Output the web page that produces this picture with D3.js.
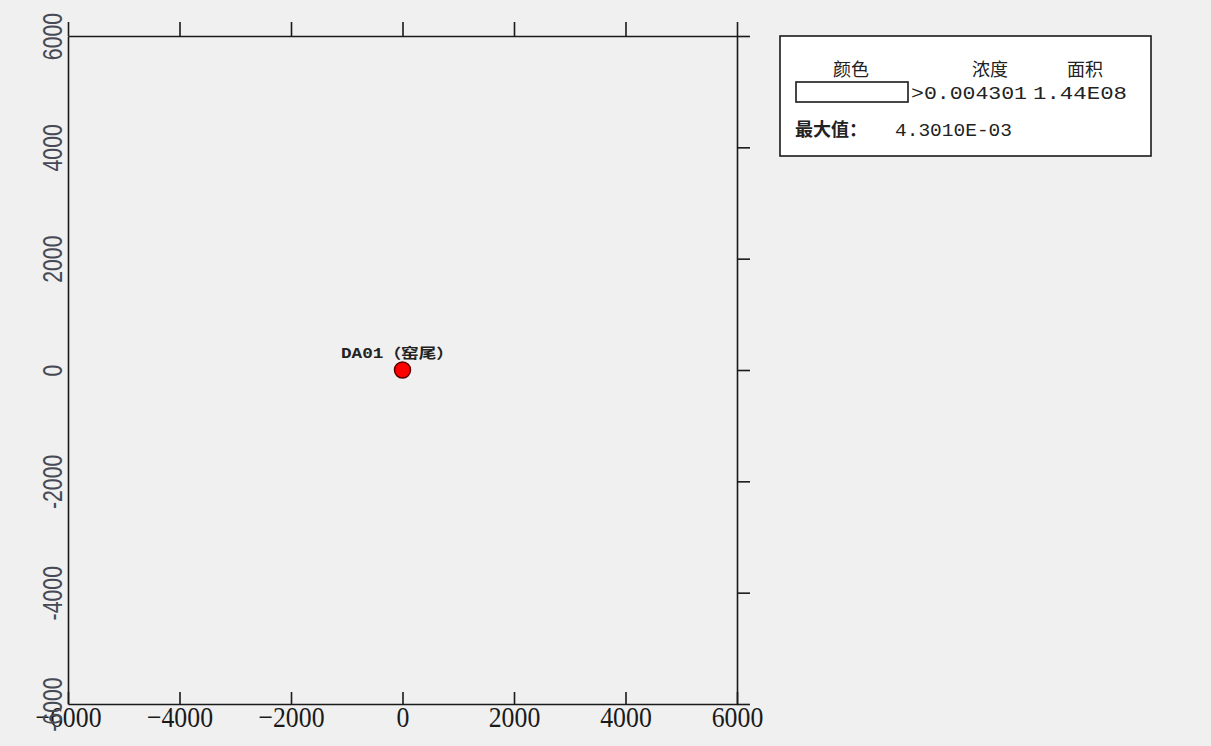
<!DOCTYPE html>
<html>
<head>
<meta charset="utf-8">
<script src="https://cdn.jsdelivr.net/npm/d3@7"></script>
<style>
  html, body { margin: 0; padding: 0; background: #f0f0f0; }
  svg { display: block; }
</style>
</head>
<body>
<div id="chart"></div>
<script>
// data
const xTicks = [-6000, -4000, -2000, 0, 2000, 4000, 6000];
const yTicks = [-6000, -4000, -2000, 0, 2000, 4000, 6000];
const sourceNames = ["DA01（窑尾）"];
const sourceX = [0];
const sourceY = [0];
const legendHeaders = ["颜色", "浓度", "面积"];
const legendConc = [">0.004301"];
const legendArea = ["1.44E08"];
const maxLabel = "最大值：";
const maxValue = "4.3010E-03";

const width = 1211, height = 746;
const plot = {left: 68, right: 737, top: 36, bottom: 704};

const svg = d3.select("#chart").append("svg")
    .attr("width", width)
    .attr("height", height);

svg.append("rect").attr("width", width).attr("height", height).attr("fill", "#f0f0f0");

const x = d3.scaleLinear().domain([-6000, 6000]).range([plot.left, plot.right]);
const y = d3.scaleLinear().domain([-6000, 6000]).range([plot.bottom, plot.top]);

const axisColor = "#1a1a1a";

function styleAxis(g) {
    g.select(".domain").attr("stroke", axisColor).attr("stroke-width", 1.6);
    g.selectAll(".tick line").attr("stroke", axisColor).attr("stroke-width", 1.6);
}

// top axis: ticks pointing up, no labels
svg.append("g")
    .attr("transform", `translate(0,${plot.top})`)
    .call(d3.axisTop(x).tickValues(xTicks).tickSize(14).tickSizeOuter(0).tickFormat(""))
    .call(styleAxis);

// right axis: ticks pointing right, no labels
svg.append("g")
    .attr("transform", `translate(${plot.right},0)`)
    .call(d3.axisRight(y).tickValues(yTicks).tickSize(13).tickSizeOuter(0).tickFormat(""))
    .call(styleAxis);

// bottom axis: inward ticks + labels
const xAxisG = svg.append("g")
    .attr("transform", `translate(0,${plot.bottom})`)
    .call(d3.axisBottom(x).tickValues(xTicks).tickSize(-12).tickSizeOuter(0).tickFormat(d => d === 0 ? "0" : d3.format("")(d).replace("-", "−")))
    .call(styleAxis);

xAxisG.selectAll(".tick text")
    .attr("y", 23)
    .attr("dy", null)
    .attr("fill", "#1a1a1a")
    .attr("font-family", "'Liberation Serif', 'DejaVu Serif', serif")
    .attr("font-size", 30)
    .attr("transform", "scale(0.86,1)");
// fix x after scale
xAxisG.selectAll(".tick text").attr("x", 0);

// left axis: rotated labels, no ticks
const yAxisG = svg.append("g")
    .attr("transform", `translate(${plot.left},0)`)
    .call(d3.axisLeft(y).tickValues(yTicks).tickSize(0).tickSizeOuter(0).tickFormat(d => String(d)))
    .call(styleAxis);

yAxisG.selectAll(".tick text")
    .attr("x", 0)
    .attr("dy", null)
    .attr("text-anchor", "middle")
    .attr("fill", "#474a55")
    .attr("font-family", "'Liberation Sans', Arial, sans-serif")
    .attr("font-size", 28)
    .attr("transform", "translate(-6,0) rotate(-90) scale(0.76,1)");

// sources
const src = svg.append("g");
sourceNames.forEach((name, i) => {
    src.append("circle")
        .attr("cx", x(sourceX[i]))
        .attr("cy", y(sourceY[i]))
        .attr("r", 8)
        .attr("fill", "#ff0000")
        .attr("stroke", "#5a0000")
        .attr("stroke-width", 1.5);
    src.append("text")
        .attr("x", x(sourceX[i]) - 5)
        .attr("y", y(sourceY[i]) - 12)
        .attr("text-anchor", "middle")
        .attr("font-family", "'Liberation Mono', 'Noto Sans CJK SC', monospace")
        .attr("font-size", 14)
        .attr("font-weight", "bold")
        .attr("fill", "#222")
        .attr("textLength", 113)
        .attr("lengthAdjust", "spacingAndGlyphs")
        .text(name);
});

// legend
const lg = svg.append("g");
lg.append("rect")
    .attr("x", 780).attr("y", 36)
    .attr("width", 371).attr("height", 120)
    .attr("fill", "#ffffff")
    .attr("stroke", "#1a1a1a")
    .attr("stroke-width", 1.6);

const cjkFont = "'Noto Sans CJK SC', 'Noto Sans', sans-serif";
const monoFont = "'Liberation Mono', 'DejaVu Sans Mono', monospace";
const headerX = [851, 990, 1085];

lg.selectAll("text.hdr")
    .data(legendHeaders)
    .enter().append("text")
    .attr("class", "hdr")
    .attr("x", (d, i) => headerX[i])
    .attr("y", 76)
    .attr("text-anchor", "middle")
    .attr("font-family", cjkFont)
    .attr("font-size", 18)
    .attr("fill", "#222")
    .text(d => d);

legendConc.forEach((c, i) => {
    const rowY = 82 + i * 24;
    lg.append("rect")
        .attr("x", 796).attr("y", rowY)
        .attr("width", 112).attr("height", 20)
        .attr("fill", "#ffffff")
        .attr("stroke", "#1a1a1a")
        .attr("stroke-width", 1.6);
    lg.append("text")
        .attr("x", 911).attr("y", rowY + 17)
        .attr("font-family", monoFont)
        .attr("font-size", 18)
        .attr("fill", "#222")
        .attr("textLength", 116)
        .attr("lengthAdjust", "spacingAndGlyphs")
        .text(c);
    lg.append("text")
        .attr("x", 1033).attr("y", rowY + 17)
        .attr("font-family", monoFont)
        .attr("font-size", 18)
        .attr("fill", "#222")
        .attr("textLength", 94)
        .attr("lengthAdjust", "spacingAndGlyphs")
        .text(legendArea[i]);
});

lg.append("text")
    .attr("x", 795).attr("y", 136)
    .attr("font-family", cjkFont)
    .attr("font-size", 18)
    .attr("font-weight", "bold")
    .attr("fill", "#222")
    .attr("textLength", 72)
    .attr("lengthAdjust", "spacingAndGlyphs")
    .text(maxLabel);

lg.append("text")
    .attr("x", 895).attr("y", 136)
    .attr("font-family", monoFont)
    .attr("font-size", 18)
    .attr("fill", "#222")
    .attr("textLength", 117)
    .attr("lengthAdjust", "spacingAndGlyphs")
    .text(maxValue);
</script>
</body>
</html>
